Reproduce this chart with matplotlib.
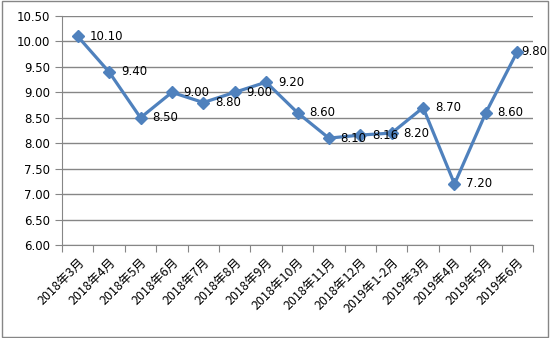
import numpy as np
import matplotlib.pyplot as plt
from matplotlib.patches import Rectangle

plt.rcParams['font.family'] = ['Noto Sans CJK SC', 'DejaVu Sans']

months = ['2018年3月', '2018年4月', '2018年5月', '2018年6月', '2018年7月',
          '2018年8月', '2018年9月', '2018年10月', '2018年11月', '2018年12月',
          '2019年1-2月', '2019年3月', '2019年4月', '2019年5月', '2019年6月']
values = [10.10, 9.40, 8.50, 9.00, 8.80, 9.00, 9.20, 8.60, 8.10, 8.16,
          8.20, 8.70, 7.20, 8.60, 9.80]
y_ticks = [6.0, 6.5, 7.0, 7.5, 8.0, 8.5, 9.0, 9.5, 10.0, 10.5]

fig = plt.figure(figsize=(5.5, 3.38), dpi=100)
ax = fig.add_axes([62/550, 1 - 245/338, 471/550, 229/338])

x = np.arange(len(months))
ax.plot(x, values, color='#4f81bd', linewidth=2.3, marker='D', markersize=6, zorder=3)

for i, v in enumerate(values):
    # last label is pushed onto the marker so it fits inside the frame
    dx = 2.5 if i == len(values) - 1 else 8.5
    ax.annotate(f'{v:.2f}', (x[i], v), xytext=(dx, 0), textcoords='offset points',
                fontsize=8.5, va='center', ha='left', family='DejaVu Sans')

ax.set_xlim(-0.5, len(months) - 0.5)
ax.set_ylim(6.0, 10.5)
ax.set_yticks(y_ticks)
ax.set_yticklabels([f'{t:.2f}' for t in y_ticks], family='DejaVu Sans', fontsize=8.5)
ax.grid(axis='y', color='#868686', linewidth=1)
ax.set_axisbelow(True)

# category ticks sit between categories, labels at centers
ax.set_xticks(np.arange(-0.5, len(months), 1))
ax.set_xticklabels([])
ax.set_xticks(x, minor=True)
ax.set_xticklabels(months, minor=True, rotation=45, ha='right', rotation_mode='anchor',
                   fontsize=9)
ax.tick_params(axis='x', which='major', length=5, color='#868686')
ax.tick_params(axis='x', which='minor', length=0, pad=8)
ax.tick_params(axis='y', length=5, color='#868686')

for side in ['top', 'right']:
    ax.spines[side].set_visible(False)
ax.spines['left'].set_color('#868686')
ax.spines['bottom'].set_color('#868686')

fig.patches.append(Rectangle((0.003, 0.004), 0.994, 0.992, transform=fig.transFigure,
                             fill=False, edgecolor='#868686', linewidth=1))

fig.savefig('out.png', dpi=100)
